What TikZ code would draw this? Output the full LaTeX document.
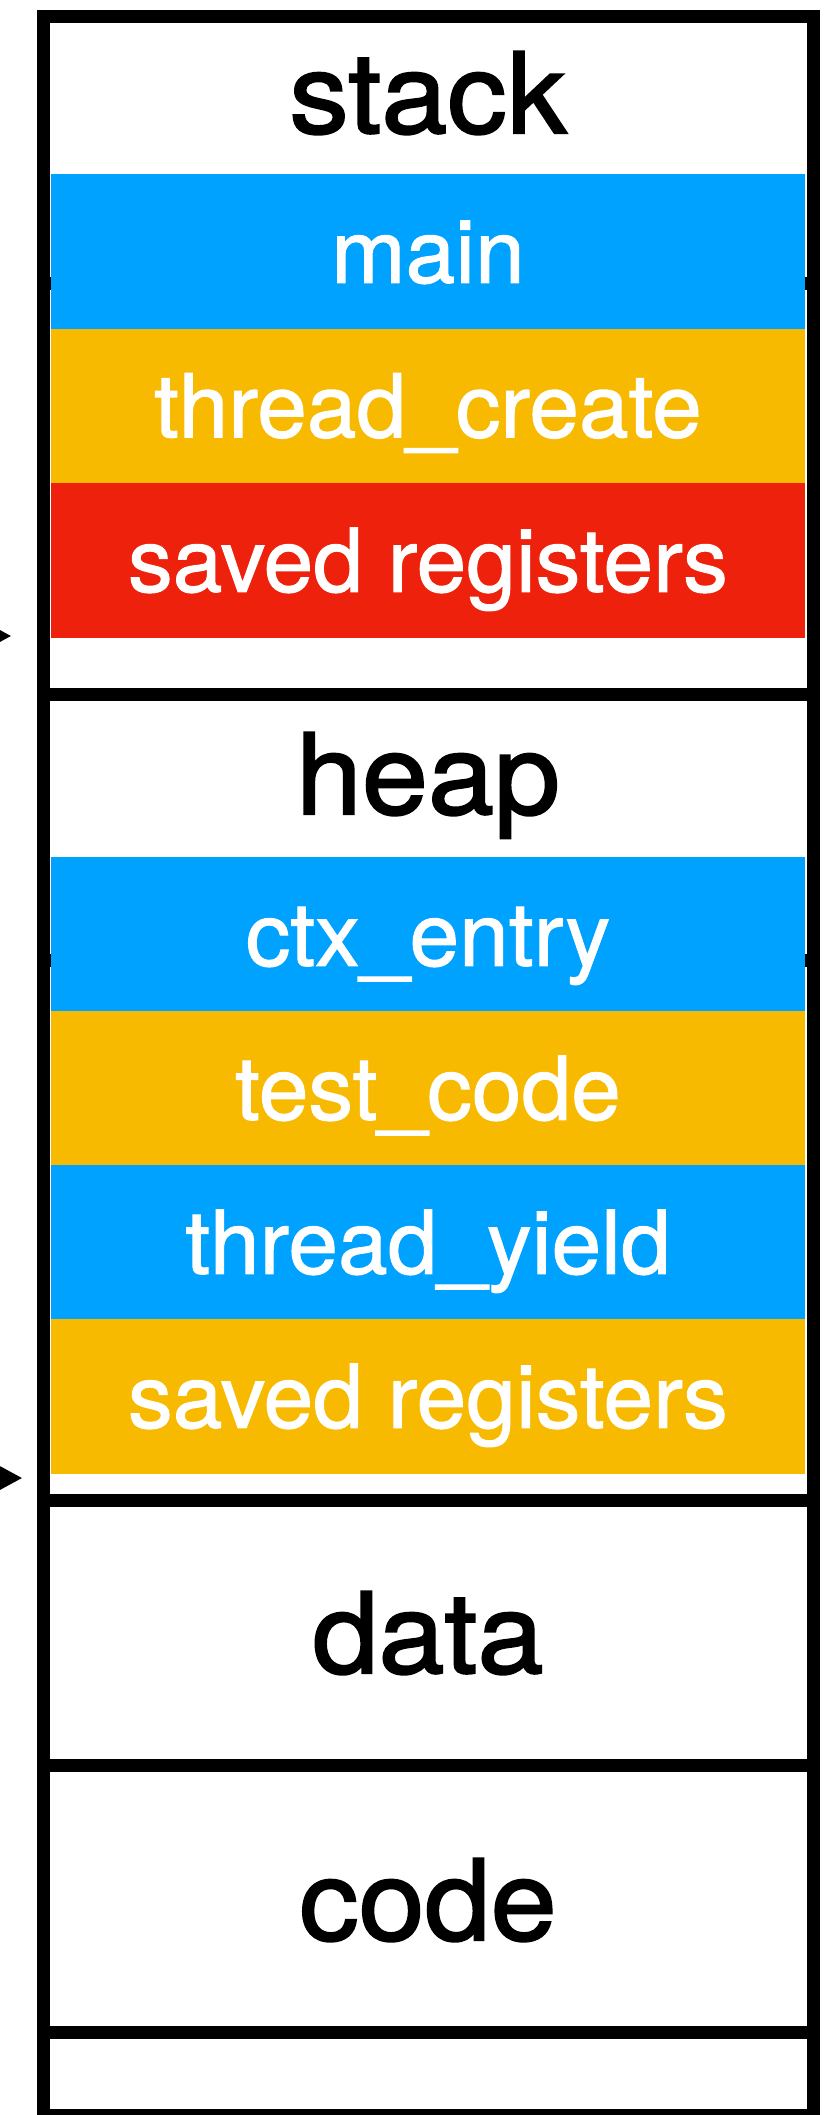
\documentclass[tikz,border=0pt]{standalone}
\usepackage{fontspec}
\setmainfont{TeX Gyre Heros}
\newfontfamily\segfont[FakeBold=1.2,FakeStretch=1.015]{TeX Gyre Heros}
\newfontfamily\titlefont[FakeBold=1.8,FakeStretch=1.06]{TeX Gyre Heros}
\usetikzlibrary{arrows.meta}
\definecolor{kblue}{HTML}{00A2FF}
\definecolor{kyellow}{HTML}{F8BA00}
\definecolor{kred}{HTML}{EE220C}
\begin{document}
\begin{tikzpicture}[x=1pt,y=-1pt,
  frame/.style={line width=13pt, draw=black},
  seg/.style={rectangle, draw=none, inner sep=0pt, minimum width=754pt,
    minimum height=154.5pt, text=white, font=\segfont\fontsize{88}{88}\selectfont,
    text height=63pt, text depth=0pt},
  title/.style={anchor=base, inner sep=0pt, font=\titlefont\fontsize{112}{112}\selectfont},
  pointer/.style={line width=3pt, -{Triangle[length=22pt,width=23pt]}}]

% page
\fill[white] (0,0) rectangle (831,2115);
\useasboundingbox (0,0) rectangle (831,2115);

% guide lines lying behind the frames
\draw[frame] (43.5,283.5) -- (813.5,283.5);
\draw[frame] (43.5,960.5) -- (813.5,960.5);

% stack frames
\node[seg, fill=kblue]   (main)   at (428,251.25) {main};
\node[seg, fill=kyellow] (create) at (428,405.75) {thread\_create};
\node[seg, fill=kred]    (regsA)  at (428,560.25) {saved registers};

% heap frames
\node[seg, fill=kblue]   (entry)  at (428,934.25)  {ctx\_entry};
\node[seg, fill=kyellow] (test)   at (428,1088.25) {test\_code};
\node[seg, fill=kblue]   (yield)  at (428,1242.25) {thread\_yield};
\node[seg, fill=kyellow] (regsB)  at (428,1396.25) {saved registers};

% outer box and region dividers
\draw[frame] (43.5,16.5) rectangle (813.5,2115.5);
\draw[frame] (43.5,694) -- (813.5,694);
\draw[frame] (43.5,1500) -- (813.5,1500);
\draw[frame] (43.5,1765.5) -- (813.5,1765.5);
\draw[frame] (43.5,2032.5) -- (813.5,2032.5);

% region titles
\node[title] (stack) at (428,133)  {stack};
\node[title] (heap)  at (428,814)  {heap};
\node[title] (data)  at (428,1673) {data};
\node[title] (code)  at (428,1940) {code};

% stack pointers entering from the left
\coordinate (tailA) at (-80,636);
\coordinate (tipA)  at (11,636);
\coordinate (tailB) at (-80,1478);
\coordinate (tipB)  at (22,1478);
\draw[pointer] (tailA) -- (tipA);
\draw[pointer] (tailB) -- (tipB);
\end{tikzpicture}
\end{document}
